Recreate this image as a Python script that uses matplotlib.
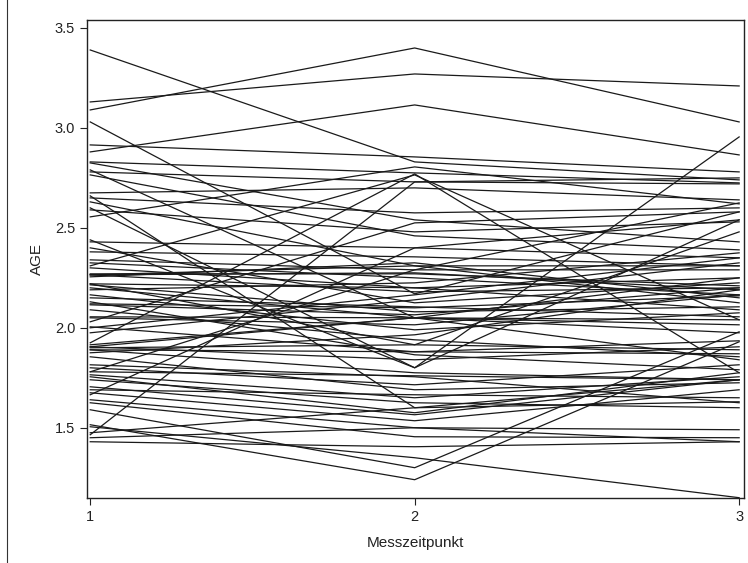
import matplotlib
matplotlib.use("Agg")
import matplotlib.pyplot as plt
from matplotlib.lines import Line2D

# values at Messzeitpunkt 1, 2, 3 (one entry per subject)
t1 = [3.39, 3.13, 3.09, 3.03, 2.915, 2.88, 2.83, 2.825, 2.79, 2.78,
      2.765, 2.675, 2.66, 2.65, 2.63, 2.60, 2.59, 2.555, 2.44, 2.43,
      2.40, 2.38, 2.34, 2.325, 2.31, 2.30, 2.265, 2.265, 2.255, 2.22,
      2.215, 2.20, 2.19, 2.165, 2.15, 2.13, 2.115, 2.09, 2.055, 2.05,
      2.03, 2.005, 1.975, 1.925, 1.915, 1.905, 1.90, 1.89, 1.875, 1.855,
      1.815, 1.80, 1.78, 1.765, 1.755, 1.74, 1.705, 1.69, 1.675, 1.665,
      1.64, 1.625, 1.59, 1.515, 1.505, 1.475, 1.465, 1.45, 1.43, 2.265,
      1.905, 2.00, 2.22, 2.27, 1.89, 2.12, 1.78]
t2 = [2.83, 3.27, 3.40, 2.17, 2.855, 3.115, 2.775, 2.54, 2.05, 2.73,
      2.46, 2.70, 1.60, 2.575, 2.31, 1.80, 2.48, 2.805, 1.80, 2.40,
      2.125, 2.355, 2.29, 2.25, 2.765, 2.20, 2.275, 2.18, 2.325, 1.915,
      2.08, 2.05, 2.225, 1.99, 2.105, 1.865, 2.065, 1.94, 2.05, 2.015,
      2.525, 1.88, 2.14, 2.77, 2.05, 1.84, 1.915, 1.775, 1.965, 1.69,
      1.755, 1.715, 2.29, 1.65, 1.575, 1.625, 1.565, 1.665, 1.535, 2.40,
      1.50, 1.455, 1.30, 1.24, 1.35, 1.60, 2.73, 1.50, 1.405, 2.31,
      2.05, 2.165, 2.20, 2.27, 1.88, 2.10, 1.76]
t3 = [2.74, 3.21, 3.03, 2.58, 2.78, 2.865, 2.725, 2.43, 1.84, 2.75,
      2.39, 2.64, 1.74, 2.60, 2.125, 2.54, 2.53, 2.62, 2.955, 2.35,
      2.225, 2.31, 2.29, 2.165, 2.04, 2.25, 2.19, 2.20, 2.15, 1.89,
      2.105, 1.975, 2.375, 2.075, 2.055, 1.79, 2.20, 1.855, 2.015, 2.165,
      2.58, 1.935, 2.325, 1.775, 2.25, 1.905, 2.48, 1.74, 2.19, 1.725,
      1.625, 1.815, 2.625, 1.755, 1.775, 1.60, 1.74, 1.65, 1.69, 2.54,
      1.43, 1.45, 1.98, 1.93, 1.15, 1.63, 2.72, 1.49, 1.43, 2.31,
      2.04, 2.35, 2.09, 2.21, 1.87, 2.16, 1.74]
zeitpunkte = [1, 2, 3]
ytick_vals = [1.5, 2.0, 2.5, 3.0, 3.5]

plt.rcParams['font.family'] = ['Liberation Sans', 'DejaVu Sans']

fig = plt.figure(figsize=(7.48, 5.63), dpi=100)
ax = fig.add_axes([87/748, 1 - 497.7/563, (744 - 87)/748, (497.7 - 20)/563])

for a, b, c in zip(t1, t2, t3):
    ax.plot(zeitpunkte, [a, b, c], color='#1a1a1a', linewidth=0.9)

ax.set_xlim(0.99, 3.015)
ax.set_ylim(1.15, 3.54)
ax.set_xticks(zeitpunkte)
ax.set_xticklabels([str(z) for z in zeitpunkte])
ax.set_yticks(ytick_vals)
ax.set_yticklabels(['%.1f' % v for v in ytick_vals])
ax.tick_params(direction='out', length=5, width=0.8, labelsize=10.5, colors='#222222')
ax.set_xlabel('Messzeitpunkt', fontsize=11, labelpad=9, color='#222222')
ax.set_ylabel('AGE', fontsize=11, labelpad=8, color='#222222')
for s in ax.spines.values():
    s.set_linewidth(1.0)
    s.set_color('#222222')

# thin border at the left of the image
fig.add_artist(Line2D([6.5/748, 6.5/748], [0, 1], color='#333333', linewidth=0.8))

fig.savefig('out.png', dpi=100)
